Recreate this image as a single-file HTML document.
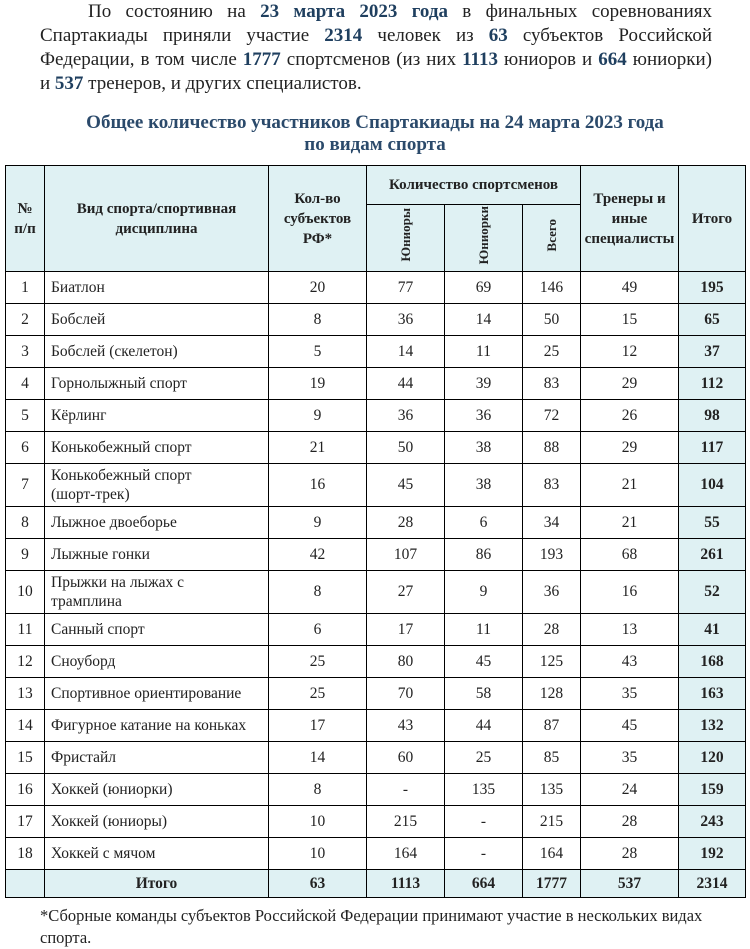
<!DOCTYPE html>
<html><head><meta charset="utf-8"><style>
body{margin:0;width:750px;height:948px;background:#fff;font-family:"Liberation Serif",serif;color:#222;position:relative;overflow:hidden}
.p{position:absolute;left:40px;width:672px;font-size:19px;line-height:24px;top:0}
.p div{text-align:justify;text-align-last:justify;white-space:nowrap;height:24px}
.p div.l{text-align-last:left}
.p b{color:#1f3f5f}
.t{position:absolute;left:0;width:750px;top:112px;text-align:center;font-weight:bold;color:#2b4a6b;font-size:19px;line-height:22px}
table{position:absolute;left:5px;top:165px;border-collapse:collapse;table-layout:fixed;font-size:15.5px}
td,th{border:1.5px solid #000;padding:0;text-align:center;vertical-align:middle}
th{background:#dff1f3;font-weight:bold;font-size:15px;line-height:20px}
td.n{text-align:left;padding-left:6px;line-height:19px}
td.s{background:#dff1f3;font-weight:bold}
tr.r td{height:31px}
tr.d td{height:42px}
tr.tot td{background:#dff1f3;font-weight:bold;height:27px}
.v{writing-mode:vertical-rl;transform:rotate(180deg);display:inline-block;font-size:13px}
.f{position:absolute;left:40px;top:905px;font-size:16.5px;line-height:22px;width:680px}
</style></head><body>
<div class="p">
<div style="padding-left:48px">По состоянию на <b>23 марта 2023 года</b> в финальных соревнованиях</div>
<div>Спартакиады приняли участие <b>2314</b> человек из <b>63</b> субъектов Российской</div>
<div>Федерации, в том числе <b>1777</b> спортсменов (из них <b>1113</b> юниоров и <b>664</b> юниорки)</div>
<div class="l">и <b>537</b> тренеров, и других специалистов.</div>
</div>
<div class="t">Общее количество участников Спартакиады на 24 марта 2023 года<br>по видам спорта</div>
<table>
<colgroup><col style="width:39px"><col style="width:224px"><col style="width:98px"><col style="width:78px"><col style="width:78px"><col style="width:58px"><col style="width:98px"><col style="width:67px"></colgroup>
<tr style="height:39px"><th rowspan="2">№<br>п/п</th><th rowspan="2">Вид спорта/спортивная<br>дисциплина</th><th rowspan="2">Кол-во<br>субъектов<br>РФ*</th><th colspan="3">Количество спортсменов</th><th rowspan="2">Тренеры и<br>иные<br>специалисты</th><th rowspan="2">Итого</th></tr>
<tr style="height:67px"><th><span class="v">Юниоры</span></th><th><span class="v">Юниорки</span></th><th><span class="v">Всего</span></th></tr>
<tr class="r"><td>1</td><td class="n">Биатлон</td><td>20</td><td>77</td><td>69</td><td>146</td><td>49</td><td class="s">195</td></tr>
<tr class="r"><td>2</td><td class="n">Бобслей</td><td>8</td><td>36</td><td>14</td><td>50</td><td>15</td><td class="s">65</td></tr>
<tr class="r"><td>3</td><td class="n">Бобслей (скелетон)</td><td>5</td><td>14</td><td>11</td><td>25</td><td>12</td><td class="s">37</td></tr>
<tr class="r"><td>4</td><td class="n">Горнолыжный спорт</td><td>19</td><td>44</td><td>39</td><td>83</td><td>29</td><td class="s">112</td></tr>
<tr class="r"><td>5</td><td class="n">Кёрлинг</td><td>9</td><td>36</td><td>36</td><td>72</td><td>26</td><td class="s">98</td></tr>
<tr class="r"><td>6</td><td class="n">Конькобежный спорт</td><td>21</td><td>50</td><td>38</td><td>88</td><td>29</td><td class="s">117</td></tr>
<tr class="d"><td>7</td><td class="n">Конькобежный спорт<br>(шорт-трек)</td><td>16</td><td>45</td><td>38</td><td>83</td><td>21</td><td class="s">104</td></tr>
<tr class="r"><td>8</td><td class="n">Лыжное двоеборье</td><td>9</td><td>28</td><td>6</td><td>34</td><td>21</td><td class="s">55</td></tr>
<tr class="r"><td>9</td><td class="n">Лыжные гонки</td><td>42</td><td>107</td><td>86</td><td>193</td><td>68</td><td class="s">261</td></tr>
<tr class="d"><td>10</td><td class="n">Прыжки на лыжах с<br>трамплина</td><td>8</td><td>27</td><td>9</td><td>36</td><td>16</td><td class="s">52</td></tr>
<tr class="r"><td>11</td><td class="n">Санный спорт</td><td>6</td><td>17</td><td>11</td><td>28</td><td>13</td><td class="s">41</td></tr>
<tr class="r"><td>12</td><td class="n">Сноуборд</td><td>25</td><td>80</td><td>45</td><td>125</td><td>43</td><td class="s">168</td></tr>
<tr class="r"><td>13</td><td class="n">Спортивное ориентирование</td><td>25</td><td>70</td><td>58</td><td>128</td><td>35</td><td class="s">163</td></tr>
<tr class="r"><td>14</td><td class="n">Фигурное катание на коньках</td><td>17</td><td>43</td><td>44</td><td>87</td><td>45</td><td class="s">132</td></tr>
<tr class="r"><td>15</td><td class="n">Фристайл</td><td>14</td><td>60</td><td>25</td><td>85</td><td>35</td><td class="s">120</td></tr>
<tr class="r"><td>16</td><td class="n">Хоккей (юниорки)</td><td>8</td><td>-</td><td>135</td><td>135</td><td>24</td><td class="s">159</td></tr>
<tr class="r"><td>17</td><td class="n">Хоккей (юниоры)</td><td>10</td><td>215</td><td>-</td><td>215</td><td>28</td><td class="s">243</td></tr>
<tr class="r"><td>18</td><td class="n">Хоккей с мячом</td><td>10</td><td>164</td><td>-</td><td>164</td><td>28</td><td class="s">192</td></tr>
<tr class="tot"><td></td><td>Итого</td><td>63</td><td>1113</td><td>664</td><td>1777</td><td>537</td><td>2314</td></tr>
</table>
<div class="f">*Сборные команды субъектов Российской Федерации принимают участие в нескольких видах<br>спорта.</div>
</body></html>
